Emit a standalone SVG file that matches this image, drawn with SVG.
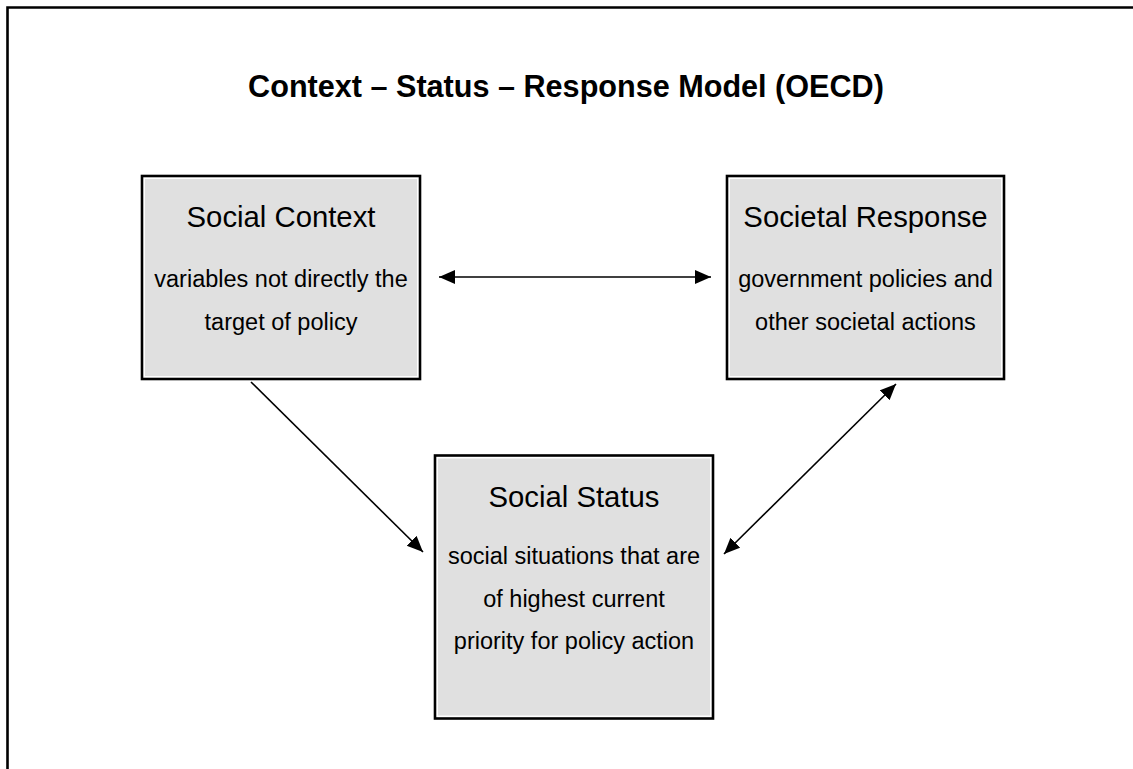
<svg xmlns="http://www.w3.org/2000/svg" width="1133" height="769" viewBox="0 0 1133 769">
<style>
.title{font-family:"Liberation Sans",Arial,sans-serif;font-weight:bold;font-size:30.6px;fill:#000;text-anchor:middle}
.head{font-family:"Liberation Sans",Arial,sans-serif;font-size:29.3px;fill:#000;text-anchor:middle}
.sub{font-family:"Liberation Sans",Arial,sans-serif;font-size:23.5px;fill:#000;text-anchor:middle}
.outer{fill:#fff;stroke:#000;stroke-width:2.6}
.inner{fill:#e0e0e0}
.conn{stroke:#000;stroke-width:1.6;fill:none}
</style>
<defs>
<marker id="ah" markerUnits="userSpaceOnUse" markerWidth="17" markerHeight="15" refX="16" refY="7" orient="auto-start-reverse">
<path d="M0,0 L16,7 L0,14 z" fill="#000"/>
</marker>
</defs>
<rect width="1133" height="769" fill="#fff"/>
<path d="M7.5,769 V7.5 H1133" fill="none" stroke="#000" stroke-width="2.6"/>
<text class="title" x="566" y="97">Context – Status – Response Model (OECD)</text>
<g id="connectors">
<line class="conn" x1="439" y1="277" x2="711" y2="277" marker-start="url(#ah)" marker-end="url(#ah)"/>
<line class="conn" x1="251" y1="382" x2="423" y2="552" marker-end="url(#ah)"/>
<line class="conn" x1="896" y1="384" x2="724" y2="554" marker-start="url(#ah)" marker-end="url(#ah)"/>
</g>
<g id="social-context">
<rect class="outer" x="142" y="176" width="278" height="203"/>
<rect class="inner" x="145" y="179" width="272" height="197"/>
<text class="head" x="281" y="227">Social Context</text>
<text class="sub" x="281" y="287">variables not directly the</text>
<text class="sub" x="281" y="330">target of policy</text>
</g>
<g id="societal-response">
<rect class="outer" x="727" y="176" width="277" height="203"/>
<rect class="inner" x="730" y="179" width="271" height="197"/>
<text class="head" x="865.5" y="227">Societal Response</text>
<text class="sub" x="865.5" y="287">government policies and</text>
<text class="sub" x="865.5" y="330">other societal actions</text>
</g>
<g id="social-status">
<rect class="outer" x="435" y="455.5" width="278" height="263"/>
<rect class="inner" x="438" y="458.5" width="272" height="257"/>
<text class="head" x="574" y="507">Social Status</text>
<text class="sub" x="574" y="564">social situations that are</text>
<text class="sub" x="574" y="607">of highest current</text>
<text class="sub" x="574" y="649">priority for policy action</text>
</g>
</svg>
